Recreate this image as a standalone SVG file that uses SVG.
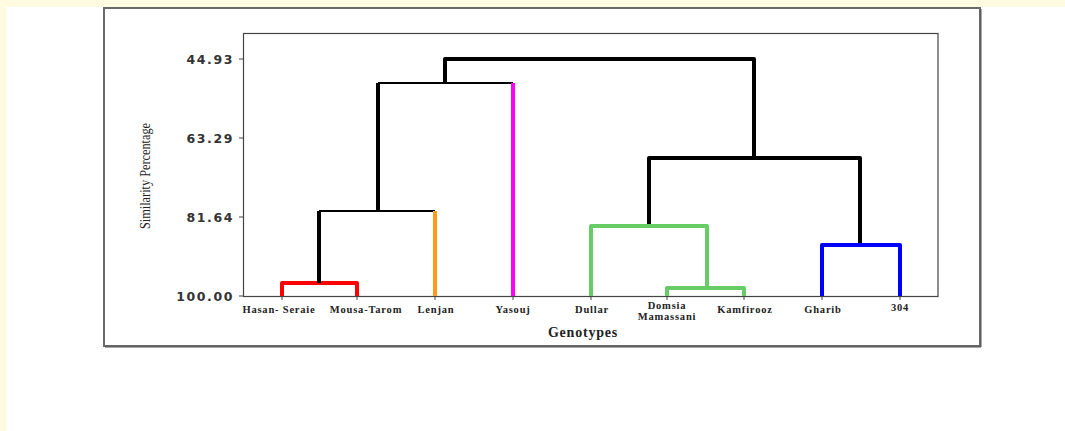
<svg xmlns="http://www.w3.org/2000/svg" width="1065" height="431" viewBox="0 0 1065 431">
<style>
.tick{font-family:"DejaVu Sans",sans-serif;font-weight:bold;font-size:12.5px;letter-spacing:1.6px;fill:#333;text-anchor:end}
.leaf{font-family:"Liberation Serif",serif;font-weight:bold;font-size:10.5px;letter-spacing:0.8px;fill:#222;text-anchor:middle}
.k{fill:none;stroke:#000;stroke-width:4;stroke-linejoin:round}
.kt{fill:none;stroke:#000;stroke-width:2}
.br{fill:none;stroke-width:4;stroke-linejoin:round}
</style>
<rect width="1065" height="431" fill="#fff"/>
<rect x="0" y="0" width="1065" height="7" fill="#fffbe0"/>
<rect x="0" y="0" width="6" height="431" fill="#fffbe0"/>
<rect x="104" y="8" width="876" height="338" fill="#fff" stroke="#6a6a6a" stroke-width="2"/>
<path d="M981 9V347H105" fill="none" stroke="#555" stroke-width="1"/>
<rect x="243.5" y="33.5" width="694.5" height="263" fill="none" stroke="#444" stroke-width="1.2"/>
<g id="axis">
<path d="M239 59H243M239 138H243M239 217H243M239 296H243" stroke="#444" stroke-width="1"/>
<path d="M282 296V300M357 296V300M435 296V300M513 296V300M591 296V300M667 296V300M744 296V300M822 296V300M900 296V300" stroke="#444" stroke-width="1"/>
<text class="tick" x="234" y="64">44.93</text>
<text class="tick" x="234" y="143">63.29</text>
<text class="tick" x="234" y="222">81.64</text>
<text class="tick" x="234" y="301">100.00</text>
<text transform="translate(150,176) rotate(-90)" font-family="Liberation Serif,serif" font-size="14" text-anchor="middle" textLength="106" lengthAdjust="spacingAndGlyphs" fill="#222">Similarity Percentage</text>
<text x="583" y="337" font-family="Liberation Serif,serif" font-weight="bold" font-size="14" letter-spacing="0.8" text-anchor="middle" fill="#222">Genotypes</text>
</g>
<g id="connectors">
<path class="br" stroke="#ff0000" d="M282 296V283H357V296"/>
<path class="k" d="M319 283V211"/>
<path class="kt" d="M319 211H435"/>
<path class="br" stroke="#ff9a1a" d="M435 211V296"/>
<path class="k" d="M378 211V83"/>
<path class="kt" d="M378 83H513"/>
<path class="br" stroke="#ff00ff" d="M513 83V296"/>
<path class="k" d="M445 83V59H754V158"/>
<path class="k" d="M649 226V158H860V245"/>
<path class="br" stroke="#66cc66" d="M591 296V226H707V288"/>
<path class="br" stroke="#66cc66" d="M667 296V288H744V296"/>
<path class="br" stroke="#0000ff" d="M822 296V245H900V296"/>
</g>
<g id="leaf-hasan"><text class="leaf" x="279" y="313">Hasan- Seraie</text></g>
<g id="leaf-mousa"><text class="leaf" x="366" y="313">Mousa-Tarom</text></g>
<g id="leaf-lenjan"><text class="leaf" x="436" y="313">Lenjan</text></g>
<g id="leaf-yasouj"><text class="leaf" x="513" y="313">Yasouj</text></g>
<g id="leaf-dullar"><text class="leaf" x="592" y="313">Dullar</text></g>
<g id="leaf-domsia"><text class="leaf" x="667" y="309">Domsia</text><text class="leaf" x="667" y="320">Mamassani</text></g>
<g id="leaf-kamfirooz"><text class="leaf" x="745" y="313">Kamfirooz</text></g>
<g id="leaf-gharib"><text class="leaf" x="823" y="313">Gharib</text></g>
<g id="leaf-304"><text class="leaf" x="900" y="311">304</text></g>
</svg>
